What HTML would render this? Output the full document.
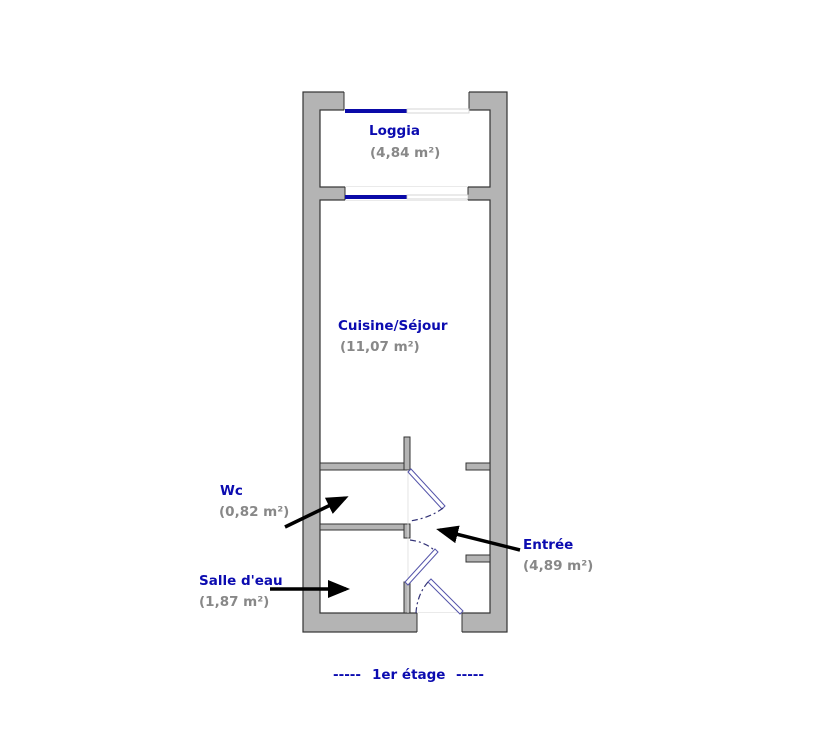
<!DOCTYPE html>
<html><head><meta charset="utf-8"><style>
html,body{margin:0;padding:0;background:#fff;width:839px;height:753px;overflow:hidden}
text{font-family:"DejaVu Sans","Liberation Sans",sans-serif;font-weight:bold;font-size:13.5px}
.b{fill:#0b0bb0}.g{fill:#888}
</style></head><body>
<svg width="839" height="753" viewBox="0 0 839 753" xmlns="http://www.w3.org/2000/svg">
<defs><marker id="ah" markerWidth="22" markerHeight="22" refX="18" refY="11" orient="auto" markerUnits="userSpaceOnUse" viewBox="0 0 22 22"><path d="M0,2 L22,11 L0,20 z" fill="#000"/></marker></defs>
<rect x="303" y="92" width="204" height="540" fill="#b4b4b4" stroke="#333" stroke-width="1.2"/>
<rect x="320" y="110" width="170" height="77" fill="#fff" stroke="#333" stroke-width="1.2"/>
<rect x="320" y="200" width="170" height="413" fill="#fff" stroke="#333" stroke-width="1.2"/>
<rect x="344" y="91" width="125" height="19.5" fill="#fff"/>
<line x1="344" y1="92" x2="344" y2="110" stroke="#333"/><line x1="469" y1="92" x2="469" y2="110" stroke="#333"/>
<rect x="345" y="109" width="62" height="4" fill="#0a0aa8"/><rect x="407" y="109" width="62" height="4" fill="#fff" stroke="#ccc" stroke-width="0.8"/>
<rect x="345" y="186.5" width="123" height="14" fill="#fff"/>
<line x1="345" y1="187" x2="345" y2="200" stroke="#333"/><line x1="468" y1="187" x2="468" y2="200" stroke="#333"/>
<rect x="345" y="195" width="62" height="4" fill="#0a0aa8"/><rect x="407" y="195" width="61" height="4" fill="#fff" stroke="#ccc" stroke-width="0.8"/>
<rect x="417" y="612.5" width="45" height="21" fill="#fff"/>
<line x1="417" y1="613" x2="417" y2="632" stroke="#333"/><line x1="462" y1="613" x2="462" y2="632" stroke="#333"/>
<g fill="#b4b4b4" stroke="#333" stroke-width="1">
<rect x="320" y="463" width="88" height="7"/>
<rect x="404" y="437" width="6" height="33"/>
<rect x="320" y="524" width="90" height="6"/>
<rect x="404" y="524" width="6" height="14"/>
<rect x="404" y="582" width="6" height="31"/>
<rect x="466" y="463" width="24" height="7"/>
<rect x="466" y="555" width="24" height="7"/>
</g>
<line x1="408" y1="470" x2="408" y2="613" stroke="#ddd" stroke-width="0.8"/>
<g stroke="#5555aa" stroke-width="1" fill="#fff">
<polygon points="408,472 411,469 445,506 442,509"/>
<polygon points="405,582 408,585 438,552 435,549"/>
<polygon points="428,582 431,579 463,611 460,614"/>
</g>
<g stroke="#333377" stroke-width="1.2" fill="none" stroke-dasharray="6,3,2,3">
<path d="M443,508 Q430,518 410,521"/>
<path d="M410,540 Q425,542 434,550"/>
<path d="M428,582 Q417,595 416,613"/>
</g>
<g stroke="#000" stroke-width="3.5" marker-end="url(#ah)">
<line x1="285" y1="527" x2="345" y2="498"/>
<line x1="270" y1="589" x2="346" y2="589"/>
<line x1="520" y1="550" x2="440" y2="530"/>
</g>
<text x="369" y="135" class="b">Loggia</text>
<text x="370" y="157" class="g">(4,84 m²)</text>
<text x="338" y="330" class="b">Cuisine/Séjour</text>
<text x="340" y="351" class="g">(11,07 m²)</text>
<text x="220" y="495" class="b">Wc</text>
<text x="219" y="516" class="g">(0,82 m²)</text>
<text x="199" y="585" class="b">Salle d'eau</text>
<text x="199" y="606" class="g">(1,87 m²)</text>
<text x="523" y="549" class="b">Entrée</text>
<text x="523" y="570" class="g">(4,89 m²)</text>
<text x="333" y="679" class="b">-----</text>
<text x="372" y="679" class="b">1er étage</text>
<text x="456" y="679" class="b">-----</text>
</svg>
</body></html>
